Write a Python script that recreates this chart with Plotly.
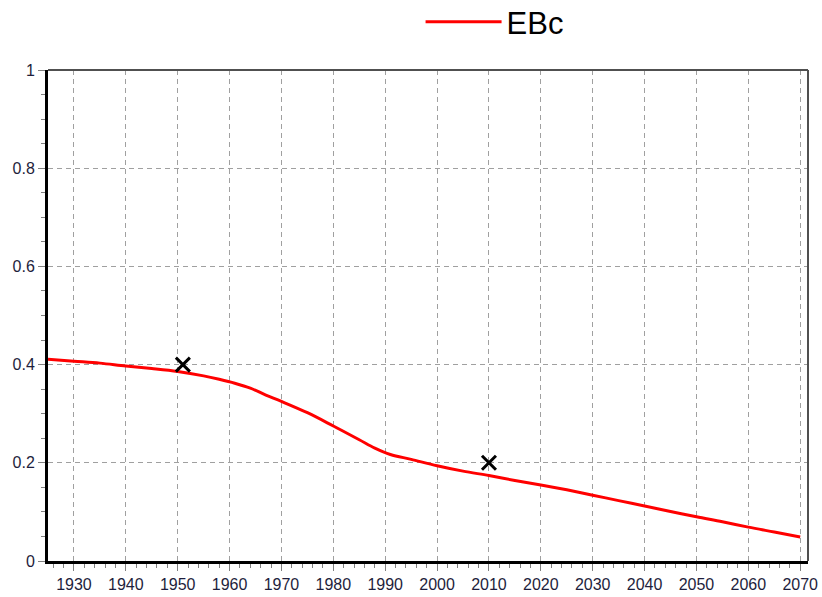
import plotly.graph_objects as go

years = [1925, 1930, 1935, 1940, 1945, 1950, 1955, 1958, 1961, 1964, 1967, 1970, 1975, 1980, 1985,
         1988, 1991, 1995, 2000, 2005, 2010, 2015, 2020, 2025, 2030, 2035, 2040, 2045, 2050,
         2055, 2060, 2065, 2070]
ebc = [0.411, 0.407, 0.403, 0.397, 0.392, 0.386, 0.377, 0.370, 0.362, 0.352, 0.338, 0.325, 0.302, 0.275, 0.247,
       0.230, 0.217, 0.207, 0.194, 0.183, 0.174, 0.164, 0.155, 0.145, 0.134, 0.123, 0.112, 0.101, 0.090,
       0.080, 0.069, 0.059, 0.049]
obs_years = [1951, 2010]
obs_vals = [0.40, 0.20]

fig = go.Figure()
fig.add_trace(go.Scatter(x=years, y=ebc, mode="lines", name="EBc", line_shape="spline",
                         line=dict(color="#ff0000", width=3)))
fig.add_trace(go.Scatter(x=obs_years, y=obs_vals, mode="markers", showlegend=False,
                         marker=dict(symbol="x-thin", size=14, color="black",
                                     line=dict(color="black", width=3))))

W, H = 822, 597
tickfont = dict(family="Liberation Sans, Arial", size=16, color="#1e1e3c")
axis_common = dict(showgrid=True, gridcolor="#a0a0a0", griddash="5px,4px", gridwidth=1,
                   showline=True, linecolor="black", linewidth=3,
                   ticks="outside", ticklen=7, tickcolor="#808080", tickwidth=1,
                   tickfont=tickfont, zeroline=False, automargin=False)
fig.update_layout(
    width=W, height=H,
    margin=dict(l=48, r=14, t=70, b=36),
    paper_bgcolor="white", plot_bgcolor="white",
    legend=dict(orientation="h", x=483 / W, xanchor="center", y=1 - 22 / H, yanchor="middle",
                yref="container", font=dict(family="Liberation Sans, Arial", size=31, color="black"),
                itemwidth=76, bgcolor="rgba(0,0,0,0)"),
    showlegend=True,
    xaxis=dict(range=[1925, 2071.5], dtick=10, tick0=1930,
               minor=dict(dtick=2, ticks="outside", ticklen=4, tickcolor="#808080", showgrid=False),
               **axis_common),
    yaxis=dict(range=[0, 1], tickvals=[0, 0.2, 0.4, 0.6, 0.8, 1],
               ticktext=["0", "0.2", "0.4", "0.6", "0.8", "1"],
               minor=dict(dtick=0.05, ticks="outside", ticklen=4, tickcolor="#808080", showgrid=False),
               **axis_common),
)
fig.add_shape(type="line", xref="paper", yref="paper", x0=0, x1=1, y0=1, y1=1,
              line=dict(color="#505050", width=2))
fig.add_shape(type="line", xref="paper", yref="paper", x0=1, x1=1, y0=0, y1=1,
              line=dict(color="#505050", width=2))
fig.write_html("out.html", config={"displayModeBar": False},
               post_script="document.body.style.margin='0';document.body.style.overflow='hidden';")
